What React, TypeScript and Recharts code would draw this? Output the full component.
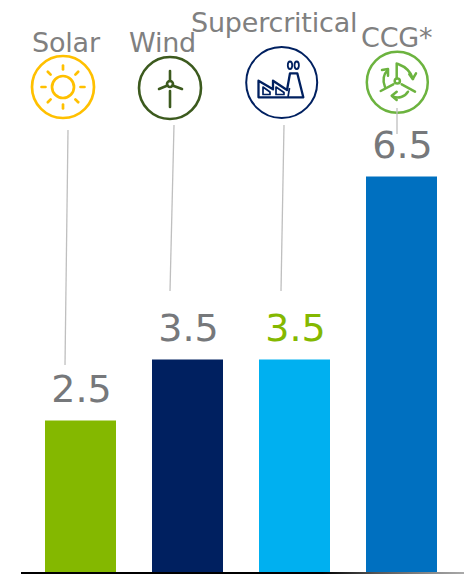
import React from "react";
import { BarChart, Bar, Cell, LabelList, XAxis, YAxis, Customized } from "recharts";

const categories = ["Solar", "Wind", "Supercritical", "CCG*"];
const values = [2.5, 3.5, 3.5, 6.5];
const barColors = ["#84b800", "#002060", "#00b0f0", "#0070c0"];
const valueColors = ["#76787b", "#76787b", "#84b800", "#76787b"];

const FONT = "'DejaVu Sans', Verdana, sans-serif";
const data = categories.map((name, i) => ({ name, value: values[i] }));

// where each heading starts and sits, one per category
const headingX = [32, 129, 191, 361];
const headingY = [52, 52, 32, 47];
const leaders = [
  [68, 130, 65, 365],
  [174, 125, 170, 291],
  [284, 125, 281, 291],
  [397, 108, 397, 134],
];

function SunIcon() {
  const c = "#ffc000";
  const rays = [0, 45, 90, 135, 180, 225, 270, 315];
  return (
    <g fill="none" stroke={c} strokeWidth={2.7} strokeLinecap="round">
      <circle cx={63} cy={87} r={31} />
      <circle cx={63} cy={87} r={11} />
      {rays.map((a) => (
        <line key={a} x1={63} y1={69.5} x2={63} y2={65.5} transform={`rotate(${a} 63 87)`} />
      ))}
    </g>
  );
}

function WindIcon() {
  const c = "#3c5a1e";
  return (
    <g fill="none" stroke={c} strokeWidth={2.6} strokeLinecap="round">
      <circle cx={170} cy={88} r={31} />
      <circle cx={170} cy={84} r={3} />
      <line x1={170} y1={71} x2={170} y2={81} />
      <line x1={167.5} y1={85.5} x2={159} y2={89} />
      <line x1={172.5} y1={85.5} x2={182} y2={89} />
      <line x1={170} y1={91} x2={170} y2={107} />
    </g>
  );
}

function FactoryIcon() {
  const c = "#002060";
  return (
    <g fill="none" stroke={c} strokeLinejoin="round">
      <circle cx={281.7} cy={82.5} r={35.5} strokeWidth={2} />
      <path d="M258.5 97.3V80.7L273 89.3V80.7L287 90L290 73.3H297.3L303.3 97.3Z" strokeWidth={2.3} />
      <path d="M263 94.5V87L270 92V94.5ZM276 94.5V87L284 92.5V94.5Z" strokeWidth={1.7} />
      <line x1={288} y1={97} x2={289.5} y2={88} strokeWidth={1.7} />
      <ellipse cx={290} cy={65.3} rx={2.2} ry={3.8} strokeWidth={1.8} />
      <ellipse cx={296.7} cy={65.3} rx={2.2} ry={3.8} strokeWidth={1.8} />
    </g>
  );
}

function CycleIcon() {
  const c = "#6cb33f";
  return (
    <g fill="none" stroke={c} strokeWidth={2.5} strokeLinecap="round" strokeLinejoin="round">
      <circle cx={397.3} cy={82.3} r={30.5} />
      <circle cx={397.3} cy={81} r={2.6} />
      <path d="M396.7 78V63.5" />
      <path d="M398 64C406 67 411 72 413 79" />
      <path d="M409.3 74.3L412.7 79L416 73.3" />
      <path d="M393.3 84.3L380.7 91" />
      <path d="M401.7 84.3L415 91.7" />
      <path d="M385 87C382 80 384 74 387 71" />
      <path d="M382 70L388 69L388 75.7" />
      <path d="M408 91.7C405 97 398 99 392.3 96" />
      <path d="M396.7 91.7L391.7 95.7L396.7 100" />
    </g>
  );
}

// headings, icons and leader lines above the bars
function Overlay() {
  return (
    <g>
      {categories.map((name, i) => (
        <text
          key={name}
          x={headingX[i]}
          y={headingY[i]}
          fontFamily={FONT}
          fontSize={27}
          letterSpacing={-0.2}
          fill="#808080"
        >
          {name}
        </text>
      ))}
      <SunIcon />
      <WindIcon />
      <FactoryIcon />
      <CycleIcon />
      {leaders.map(([x1, y1, x2, y2], i) => (
        <line key={i} x1={x1} y1={y1} x2={x2} y2={y2} stroke="#bfbfbf" strokeWidth={1.3} />
      ))}
    </g>
  );
}

function ValueLabel(props: any) {
  const { x, y, width, index, value } = props;
  return (
    <text
      x={x + width / 2 + 1}
      y={y - 19}
      textAnchor="middle"
      fontFamily={FONT}
      fontSize={38}
      fill={valueColors[index]}
    >
      {value}
    </text>
  );
}

export default function App() {
  return (
    <div style={{ position: "absolute", left: 0, top: 0 }}>
      <BarChart
        width={464}
        height={574}
        data={data}
        margin={{ top: 24, right: 0, bottom: 0, left: 21 }}
      >
        <defs>
          <linearGradient id="axisFade" gradientUnits="userSpaceOnUse" x1={21} y1={0} x2={464} y2={0}>
            <stop offset="0.68" stopColor="#000000" />
            <stop offset="0.8" stopColor="#555555" />
            <stop offset="1" stopColor="#aaaaaa" />
          </linearGradient>
        </defs>
        <XAxis
          dataKey="name"
          height={1}
          tick={false}
          tickLine={false}
          axisLine={{ stroke: "url(#axisFade)", strokeWidth: 2 }}
          padding={{ left: 6, right: 9 }}
        />
        <YAxis hide domain={[0, 9]} />
        <Bar dataKey="value" barSize={71} isAnimationActive={false}>
          {data.map((d, i) => (
            <Cell key={d.name} fill={barColors[i]} />
          ))}
          <LabelList dataKey="value" content={ValueLabel} />
        </Bar>
        <Customized component={Overlay} />
      </BarChart>
    </div>
  );
}
